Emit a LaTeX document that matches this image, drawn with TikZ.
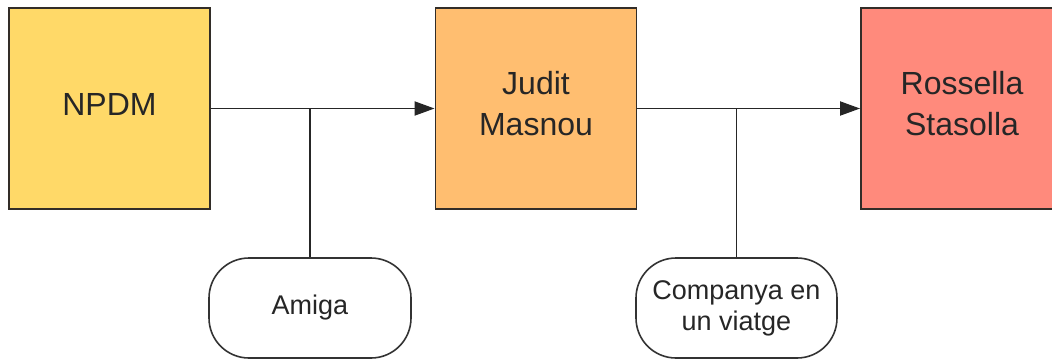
\documentclass[tikz,border=0pt]{standalone}
\usepackage{fontspec}
\setmainfont{Liberation Sans}
\usetikzlibrary{arrows.meta}
\definecolor{cyellow}{RGB}{255,217,104}
\definecolor{corange}{RGB}{255,190,112}
\definecolor{csalmon}{RGB}{255,138,124}
\definecolor{cborder}{RGB}{50,45,40}
\tikzset{
  bigbox/.style={draw=cborder, line width=1.9pt, rectangle, minimum width=201pt, minimum height=201pt, inner sep=0pt, align=center, font=\fontsize{32}{41}\selectfont, text=black!85},
  bigtext/.style={font=\fontsize{32}{41}\selectfont, text=black!85, align=center, inner sep=0pt},
  relbox/.style={draw=black!80, line width=1.6pt, rectangle, rounded corners=40pt, fill=white, minimum width=202pt, minimum height=100pt, inner sep=0pt, align=center, font=\fontsize{27}{31}\selectfont, text=black!85},
  conn/.style={draw=black!85, line width=1.9pt},
  arr/.style={conn, -{Triangle[length=20pt,width=14pt]}}
}
\begin{document}
\begin{tikzpicture}[x=1pt,y=-1pt]
\useasboundingbox (0,0) rectangle (1052,360);
\fill[white] (0,0) rectangle (1052,360);
\node[bigbox, fill=cyellow] (npdm) at (109.5,108.5) {};
\node[bigbox, fill=corange] (judit) at (536,108.5) {};
\node[bigbox, fill=csalmon, minimum width=202pt] (rossella) at (962,108.5) {};
\node[bigtext] (npdmtext) at (109.5,104) {NPDM};
\node[bigtext] (judittext) at (536,104) {Judit\\Masnou};
\node[bigtext] (rossellatext) at (962,104) {Rossella\\Stasolla};
\node[relbox] (amiga) at (310,308) {Amiga};
\node[relbox, minimum width=201pt] (companya) at (736.5,308) {Companya en\\un viatge};
\draw[arr] (npdm.east) -- (judit.west);
\draw[arr] (judit.east) -- (rossella.west);
\draw[conn] (amiga.north) -- (amiga.north |- npdm.east);
\draw[conn] (companya.north) -- (companya.north |- judit.east);
\end{tikzpicture}
\end{document}
